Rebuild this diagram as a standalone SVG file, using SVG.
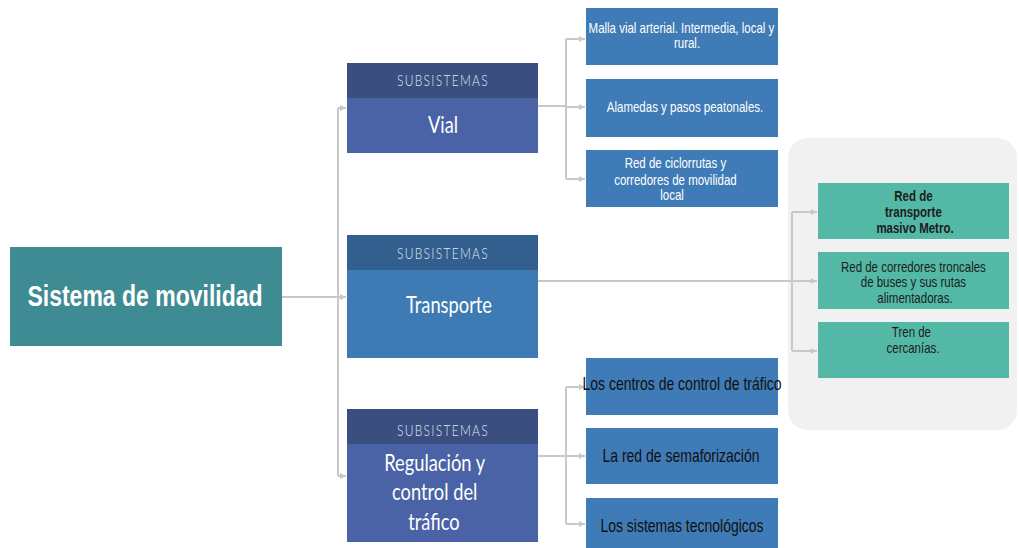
<svg xmlns="http://www.w3.org/2000/svg" width="1019" height="548" viewBox="0 0 1019 548">
  <style>
    .bg { fill: #ffffff; }
    .panel { fill: #f1f1f1; }
    .root { fill: #3e8b94; }
    .hdr-a { fill: #3a4e80; }
    .body-a { fill: #4a62a6; }
    .hdr-t { fill: #335f8f; }
    .body-t { fill: #3e7bb4; }
    .leaf { fill: #3f7bb6; }
    .leaf-g { fill: #53b9a6; }
    .wire { fill: none; stroke: #c8c8c8; stroke-width: 2; }
    .title { font-family: "Liberation Sans", Arial, sans-serif; font-weight: bold; font-size: 23px; fill: #ffffff; text-anchor: middle; }
    .cap { font-family: Lato, "Open Sans", sans-serif; font-weight: 300; font-size: 12px; letter-spacing: 1.3px; fill: #dfe5f0; text-anchor: middle; }
    .sub { font-family: Lato, "Open Sans", sans-serif; font-size: 18.3px; fill: #ffffff; text-anchor: middle; }
    .leaf-w { font-family: "Liberation Sans", Arial, sans-serif; font-size: 11.5px; fill: #ffffff; text-anchor: middle; }
    .leaf-k { font-family: "Liberation Sans", Arial, sans-serif; font-size: 14px; fill: #111111; text-anchor: middle; }
    .leaf-gk { font-family: "Liberation Sans", Arial, sans-serif; font-size: 11.5px; fill: #1c1c1c; text-anchor: middle; }
    .bold { font-weight: bold; }
  </style>
  <defs>
    <marker id="arrow" markerUnits="userSpaceOnUse" markerWidth="7" markerHeight="7" refX="6" refY="3" orient="auto">
      <path d="M0,0 L6,3 L0,6 z" fill="#c8c8c8"/>
    </marker>
  </defs>

  <rect class="bg" x="0" y="0" width="1019" height="548"/>

  <!-- backdrop behind the transport leaves -->
  <rect class="panel" x="788" y="138" width="229" height="292" rx="20" ry="20"/>

  <!-- connectors -->
  <g id="connectors">
    <path class="wire" d="M282,297 H338"/>
    <path class="wire" d="M338,108 V476"/>
    <path class="wire" d="M338,108 H346" marker-end="url(#arrow)"/>
    <path class="wire" d="M338,297 H346" marker-end="url(#arrow)"/>
    <path class="wire" d="M338,476 H346" marker-end="url(#arrow)"/>

    <path class="wire" d="M538,106 H566"/>
    <path class="wire" d="M566,39 V179"/>
    <path class="wire" d="M566,39 H585" marker-end="url(#arrow)"/>
    <path class="wire" d="M566,107 H585" marker-end="url(#arrow)"/>
    <path class="wire" d="M566,179 H585" marker-end="url(#arrow)"/>

    <path class="wire" d="M538,281 H817" marker-end="url(#arrow)"/>
    <path class="wire" d="M792,212 V351"/>
    <path class="wire" d="M792,212 H817" marker-end="url(#arrow)"/>
    <path class="wire" d="M792,351 H817" marker-end="url(#arrow)"/>

    <path class="wire" d="M538,456 H566"/>
    <path class="wire" d="M566,387 V524"/>
    <path class="wire" d="M566,387 H585" marker-end="url(#arrow)"/>
    <path class="wire" d="M566,456 H585" marker-end="url(#arrow)"/>
    <path class="wire" d="M566,524 H585" marker-end="url(#arrow)"/>
  </g>

  <!-- root -->
  <g id="sistema">
    <rect class="root" x="10" y="247" width="272" height="99"/>
    <text class="title" transform="translate(145 306) scale(1 1.28)" x="0" y="0">Sistema de movilidad</text>
  </g>

  <!-- subsystems -->
  <g id="vial">
    <rect class="body-a" x="347" y="63" width="191" height="90"/>
    <rect class="hdr-a" x="347" y="63" width="191" height="35"/>
    <text class="cap" transform="translate(443 86) scale(1 1.28)" x="0" y="0">SUBSISTEMAS</text>
    <text class="sub" transform="translate(443 133) scale(1 1.28)" x="0" y="0">Vial</text>
  </g>

  <g id="transporte">
    <rect class="body-t" x="347" y="235" width="191" height="123"/>
    <rect class="hdr-t" x="347" y="235" width="191" height="35"/>
    <text class="cap" transform="translate(443 259) scale(1 1.28)" x="0" y="0">SUBSISTEMAS</text>
    <text class="sub" transform="translate(449 313) scale(1 1.28)" x="0" y="0">Transporte</text>
  </g>

  <g id="regulacion">
    <rect class="body-a" x="347" y="409" width="191" height="133"/>
    <rect class="hdr-a" x="347" y="409" width="191" height="35"/>
    <text class="cap" transform="translate(443 436) scale(1 1.28)" x="0" y="0">SUBSISTEMAS</text>
    <text class="sub" transform="translate(437 471) scale(1 1.28)" x="0" y="0">
      <tspan x="0" dy="0">Regulación y</tspan>
      <tspan x="0" dy="23">control del</tspan>
      <tspan x="-3" dy="23">tráfico</tspan>
    </text>
  </g>

  <!-- vial leaves -->
  <g id="malla-vial">
    <rect class="leaf" x="586" y="8" width="192" height="57"/>
    <text class="leaf-w" transform="translate(683 33) scale(1 1.28)" x="0" y="0">
      <tspan x="0" dy="0">Malla vial arterial. Intermedia, local y</tspan>
      <tspan x="4" dy="11.7">rural.</tspan>
    </text>
  </g>
  <g id="alamedas">
    <rect class="leaf" x="586" y="79" width="192" height="58"/>
    <text class="leaf-w" transform="translate(685 112) scale(1 1.28)" x="0" y="0">Alamedas y pasos peatonales.</text>
  </g>
  <g id="ciclorrutas">
    <rect class="leaf" x="586" y="150" width="192" height="57"/>
    <text class="leaf-w" transform="translate(677 168) scale(1 1.28)" x="0" y="0">
      <tspan x="0" dy="0">Red de ciclorrutas y</tspan>
      <tspan x="0" dy="13.3">corredores de movilidad</tspan>
      <tspan x="-5" dy="11.7">local</tspan>
    </text>
  </g>

  <!-- transport leaves -->
  <g id="metro">
    <rect class="leaf-g" x="818" y="183" width="191" height="56"/>
    <text class="leaf-gk bold" transform="translate(915 201) scale(1 1.28)" x="0" y="0">
      <tspan x="0" dy="0">Red de</tspan>
      <tspan x="0" dy="12.5">transporte</tspan>
      <tspan x="0" dy="12.5">masivo Metro.</tspan>
    </text>
  </g>
  <g id="troncales">
    <rect class="leaf-g" x="818" y="252" width="191" height="57"/>
    <text class="leaf-gk" transform="translate(915 272) scale(1 1.28)" x="0" y="0">
      <tspan x="0" dy="0">Red de corredores troncales</tspan>
      <tspan x="0" dy="11.9">de buses y sus rutas</tspan>
      <tspan x="0" dy="12.5">alimentadoras.</tspan>
    </text>
  </g>
  <g id="tren">
    <rect class="leaf-g" x="818" y="322" width="191" height="56"/>
    <text class="leaf-gk" transform="translate(913 337) scale(1 1.28)" x="0" y="0">
      <tspan x="0" dy="0">Tren de</tspan>
      <tspan x="0" dy="12.5">cercanías.</tspan>
    </text>
  </g>

  <!-- traffic control leaves -->
  <g id="centros-control">
    <rect class="leaf" x="586" y="358" width="192" height="57"/>
    <text class="leaf-k" transform="translate(682 390) scale(1 1.28)" x="0" y="0">Los centros de control de tráfico</text>
  </g>
  <g id="semaforizacion">
    <rect class="leaf" x="586" y="428" width="192" height="56"/>
    <text class="leaf-k" transform="translate(681 462) scale(1 1.28)" x="0" y="0">La red de semaforización</text>
  </g>
  <g id="sistemas-tecnologicos">
    <rect class="leaf" x="586" y="498" width="192" height="56"/>
    <text class="leaf-k" transform="translate(682 532) scale(1 1.28)" x="0" y="0">Los sistemas tecnológicos</text>
  </g>
</svg>
